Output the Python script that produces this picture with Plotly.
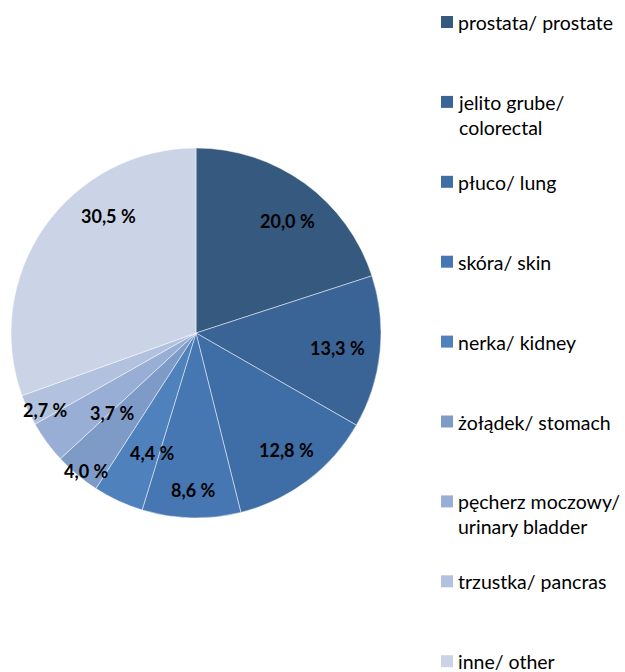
import math
import plotly.graph_objects as go

labels = ["prostata/ prostate", "jelito grube/<br>colorectal", "płuco/ lung", "skóra/ skin",
          "nerka/ kidney", "żołądek/ stomach", "pęcherz moczowy/<br>urinary bladder",
          "trzustka/ pancras", "inne/ other"]
values = [20.0, 13.3, 12.8, 8.6, 4.4, 4.0, 3.7, 2.7, 30.5]
colors = ["#36597F", "#3B6496", "#3F6DA5", "#4677B2", "#4F81BD",
          "#7E9BC8", "#98AED4", "#B1C1DE", "#CBD4E6"]
text_labels = [f"{v:.1f} %".replace(".", ",") for v in values]
# radial placement of each data label (fraction of radius) and small pixel nudges, style only
label_radius = [0.78, 0.77, 0.79, 0.85, 0.69, 0.95, 0.63, 0.91, 0.79]
label_nudge = [(7, 5), (0, 0), (2, 0), (1, 0), (10, 4), (3, 3), (10, 11), (2, 7), (32, -33)]

W, H = 625, 672
cx, cy, r = 196, 333, 185

fig = go.Figure()
fig.add_trace(go.Pie(
    values=values, labels=labels, sort=False, direction="clockwise", rotation=0,
    marker=dict(colors=colors, line=dict(color="rgba(255,255,255,0.6)", width=0.8)),
    textinfo="none", showlegend=False, hoverinfo="skip",
    domain=dict(x=[(cx - r) / W, (cx + r) / W], y=[1 - (cy + r) / H, 1 - (cy - r) / H]),
))

annots, shapes = [], []
total = sum(values)
cum = 0.0
for v, t, rf, (nx, ny) in zip(values, text_labels, label_radius, label_nudge):
    mid = (cum + v / 2) / total * 2 * math.pi
    cum += v
    px = cx + rf * r * math.sin(mid) + nx
    py = cy - rf * r * math.cos(mid) + ny
    annots.append(dict(xref="paper", yref="paper", x=px / W, y=1 - py / H,
                       xanchor="center", yanchor="middle", showarrow=False, text=t,
                       font=dict(family="Lato", size=18, color="black", weight="bold")))

# custom legend with Excel-like spacing
top0, step = 16, 79.9
for i, (lab, col) in enumerate(zip(labels, colors)):
    y = top0 + i * step
    shapes.append(dict(type="rect", xref="paper", yref="paper",
                       x0=441 / W, x1=453 / W, y0=1 - (y + 12) / H, y1=1 - y / H,
                       fillcolor=col, line=dict(width=0)))
    annots.append(dict(xref="paper", yref="paper", x=456 / W, y=1 - (y - 7) / H,
                       xanchor="left", yanchor="top", align="left", showarrow=False,
                       text=lab, font=dict(family="Lato", size=19.5, color="black")))

fig.update_layout(width=W, height=H, margin=dict(l=0, r=0, t=0, b=0),
                  paper_bgcolor="white", plot_bgcolor="white",
                  shapes=shapes, annotations=annots)
fig.write_html("out.html", config={"displayModeBar": False},
               post_script="document.body.style.margin='0';document.body.style.overflow='hidden';")
